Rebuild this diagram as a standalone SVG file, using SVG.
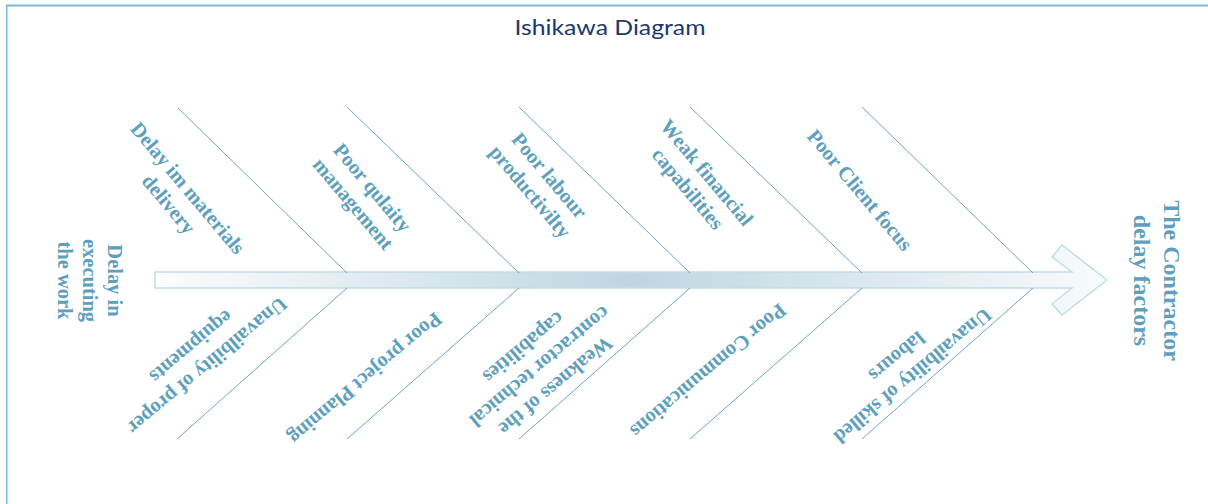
<svg xmlns="http://www.w3.org/2000/svg" width="1208" height="504" viewBox="0 0 1208 504">
  <style>
    .frame { stroke: #7db9d3; stroke-width: 1.6; fill: none; }
    .frame-hi { stroke: #c8e2ee; stroke-width: 1; fill: none; }
    .title { font-family: "Lato", "Open Sans", "Liberation Sans", sans-serif; font-size: 21px; fill: #1b3a6b; }
    .bone { stroke: #6aa7c1; stroke-width: 1; fill: none; }
    .lbl { font-family: "Liberation Serif", "Times New Roman", serif; font-weight: bold; font-size: 20.5px; fill: #5d9fbc; text-anchor: middle; }
    .lbl-big { font-family: "Liberation Serif", "Times New Roman", serif; font-weight: bold; font-size: 24px; fill: #5d9fbc; text-anchor: middle; }
  </style>
  <defs>
    <linearGradient id="spineFill" gradientUnits="userSpaceOnUse" x1="155" y1="0" x2="1107" y2="0">
      <stop offset="0" stop-color="#fbfdfe"/>
      <stop offset="0.5" stop-color="#bdd6e1"/>
      <stop offset="1" stop-color="#f8fbfc"/>
    </linearGradient>
  </defs>

  <rect width="1208" height="504" fill="#ffffff"/>

  <!-- page frame -->
  <g id="frame">
    <line class="frame-hi" x1="6" y1="4.3" x2="1208" y2="4.3"/>
    <line class="frame" x1="6" y1="5.6" x2="1208" y2="5.6"/>
    <line class="frame" x1="6.7" y1="5" x2="6.7" y2="504"/>
  </g>

  <text id="title" class="title" x="610" y="35" text-anchor="middle" textLength="191" lengthAdjust="spacingAndGlyphs">Ishikawa Diagram</text>

  <!-- spine arrow -->
  <g id="spine">
    <polygon points="155,272 1072,272 1052,257 1062,245 1107,280 1062,315 1052,304 1072,288 155,288"
             fill="url(#spineFill)" stroke="#c3dce6" stroke-width="1.5" stroke-linejoin="miter"/>
  </g>

  <!-- cause bones -->
  <g id="connectors">
    <line class="bone" x1="178" y1="108" x2="347" y2="273"/>
    <line class="bone" x1="347" y1="107" x2="519" y2="273"/>
    <line class="bone" x1="519" y1="107" x2="690" y2="273"/>
    <line class="bone" x1="690" y1="107" x2="862" y2="273"/>
    <line class="bone" x1="862" y1="107" x2="1033" y2="273"/>

    <line class="bone" x1="347" y1="288" x2="177" y2="439"/>
    <line class="bone" x1="519" y1="288" x2="347" y2="439"/>
    <line class="bone" x1="690" y1="288" x2="519" y2="439"/>
    <line class="bone" x1="862" y1="288" x2="690" y2="439"/>
    <line class="bone" x1="1033" y1="288" x2="862" y2="439"/>
  </g>

  <!-- effect and source -->
  <g id="effect">
    <text class="lbl-big" transform="translate(1172,280.5) rotate(90)"><tspan x="0" y="8">The Contractor</tspan><tspan x="0" y="38">delay factors</tspan></text>
  </g>
  <g id="source">
    <text class="lbl" transform="translate(115,280.5) rotate(90)"><tspan x="0" y="7">Delay in</tspan><tspan x="0" y="32">executing</tspan><tspan x="0" y="57">the work</tspan></text>
  </g>

  <!-- upper causes -->
  <g id="cause-materials">
    <text class="lbl" transform="translate(188,188) rotate(50)"><tspan x="0" y="7">Delay im materials</tspan><tspan x="0" y="32">delivery</tspan></text>
  </g>
  <g id="cause-quality">
    <text class="lbl" transform="translate(372.5,187.5) rotate(50)"><tspan x="0" y="7">Poor qulaity</tspan><tspan x="0" y="32">management</tspan></text>
  </g>
  <g id="cause-productivity">
    <text class="lbl" transform="translate(549.5,175.5) rotate(50)"><tspan x="0" y="7">Poor labour</tspan><tspan x="0" y="32">productivilty</tspan></text>
  </g>
  <g id="cause-financial">
    <text class="lbl" transform="translate(707,172.5) rotate(50)"><tspan x="0" y="7">Weak financial</tspan><tspan x="0" y="32">capabilities</tspan></text>
  </g>
  <g id="cause-client">
    <text class="lbl" transform="translate(860,190) rotate(50)"><tspan x="0" y="7">Poor Client focus</tspan></text>
  </g>

  <!-- lower causes -->
  <g id="cause-equipment">
    <text class="lbl" transform="translate(207.5,366) rotate(140)"><tspan x="0" y="7">Unavailbility of proper</tspan><tspan x="0" y="32">equipments</tspan></text>
  </g>
  <g id="cause-planning">
    <text class="lbl" transform="translate(365.5,378.5) rotate(140)"><tspan x="0" y="7">Poor project Planning</tspan></text>
  </g>
  <g id="cause-technical">
    <text class="lbl" transform="translate(556,386) rotate(140)"><tspan x="0" y="7">Weakness of the</tspan><tspan x="0" y="32">contractor technical</tspan><tspan x="0" y="57">capabilities</tspan></text>
  </g>
  <g id="cause-communication">
    <text class="lbl" transform="translate(708.5,371) rotate(140)"><tspan x="0" y="7">Poor Communications</tspan></text>
  </g>
  <g id="cause-labour">
    <text class="lbl" transform="translate(913,376) rotate(140)"><tspan x="0" y="7">Unavailbility of skilled</tspan><tspan x="0" y="32">labours</tspan></text>
  </g>
</svg>
